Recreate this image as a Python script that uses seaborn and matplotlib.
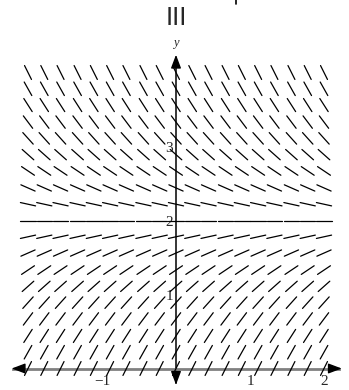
import numpy as np
import pandas as pd
import seaborn as sns
import matplotlib.pyplot as plt
from matplotlib.lines import Line2D
from matplotlib.ticker import FixedLocator

# --- slope field values ---
x_vals = [-2.0, -1.78, -1.56, -1.33, -1.11, -0.89, -0.67, -0.44, -0.22, 0.0,
          0.22, 0.44, 0.67, 0.89, 1.11, 1.33, 1.56, 1.78, 2.0]
y_vals = [0.0, 0.22, 0.44, 0.67, 0.89, 1.11, 1.33, 1.56, 1.78, 2.0,
          2.22, 2.44, 2.67, 2.89, 3.11, 3.33, 3.56, 3.78, 4.0]
row_slopes = [2.0, 1.78, 1.56, 1.33, 1.11, 0.89, 0.67, 0.44, 0.22, 0.0,
              -0.22, -0.44, -0.67, -0.89, -1.11, -1.33, -1.56, -1.78, -2.0]

x_ticklabels = {-1: '\u22121', 1: '1', 2: '2'}
y_ticklabels = {1: '1', 2: '2', 3: '3'}
minor_x = [-2.0, -1.8, -1.6, -1.4, -1.2, -1.0, -0.8, -0.6, -0.4, -0.2, 0.0,
           0.2, 0.4, 0.6, 0.8, 1.0, 1.2, 1.4, 1.6, 1.8, 2.0]
minor_y = [0.2, 0.4, 0.6, 0.8, 1.0, 1.2, 1.4, 1.6, 1.8, 2.0,
           2.2, 2.4, 2.6, 2.8, 3.0, 3.2, 3.4, 3.6, 3.8, 4.0]

half_len = 0.105

# build segments as long-form table
rows = []
seg = 0
for yv, m in zip(y_vals, row_slopes):
    dx = half_len / np.sqrt(1 + m * m)
    for xv in x_vals:
        rows.append((seg, xv - dx, yv - m * dx))
        rows.append((seg, xv + dx, yv + m * dx))
        seg += 1
df = pd.DataFrame(rows, columns=['seg', 'x', 'y'])

sns.set_style('white')

fig = plt.figure(figsize=(3.49, 3.9), dpi=100)
ax = fig.add_axes([0, 0, 1, 1])
ax.set_xlim(-176 / 74, (349 - 176) / 74)
ax.set_ylim((368.5 - 390) / 74, 368.5 / 74)

sns.lineplot(data=df, x='x', y='y', units='seg', estimator=None, sort=False,
             color='black', lw=0.9, ax=ax, legend=False, zorder=3)
ax.set_xlabel('')
ax.set_ylabel('')

# axes through origin
for s in ['top', 'right']:
    ax.spines[s].set_visible(False)
ax.spines['bottom'].set_position(('data', 0))
ax.spines['left'].set_position(('data', 0))
ax.spines['bottom'].set_bounds(-2.2, 2.2)
ax.spines['bottom'].set_color('#808080')
ax.spines['bottom'].set_linewidth(2)
ax.spines['left'].set_bounds(-0.2, 4.2)
ax.spines['left'].set_color('black')
ax.spines['left'].set_linewidth(1.1)

ax.xaxis.set_major_locator(FixedLocator(list(x_ticklabels.keys())))
ax.set_xticklabels(list(x_ticklabels.values()))
ax.xaxis.set_minor_locator(FixedLocator(minor_x))
ax.yaxis.set_major_locator(FixedLocator(list(y_ticklabels.keys())))
ax.set_yticklabels(list(y_ticklabels.values()))
ax.yaxis.set_minor_locator(FixedLocator(minor_y))

ax.tick_params(which='both', direction='in', length=3, width=0.8, color='black')
ax.tick_params(axis='x', which='major', pad=5)
ax.tick_params(axis='y', which='major', pad=2)
for lab in ax.get_xticklabels() + ax.get_yticklabels():
    lab.set_family(['Liberation Serif'])
    lab.set_fontsize(11)

# arrow heads
head = dict(arrowstyle='-|>,head_length=0.45,head_width=0.17', color='black',
            lw=1, mutation_scale=18, shrinkA=0, shrinkB=0)
ax.annotate('', xy=(2.24, 0), xytext=(2.1, 0), arrowprops=head)
ax.annotate('', xy=(-2.22, 0), xytext=(-2.08, 0), arrowprops=head)
ax.annotate('', xy=(0, 4.24), xytext=(0, 4.1), arrowprops=head)
ax.annotate('', xy=(0, -0.22), xytext=(0, -0.08), arrowprops=head)

ax.text(0, (368.5 - 43) / 74, 'y', ha='center', va='center', fontsize=9,
        style='italic', family=['Liberation Serif'])

fig.text(176 / 349, 1 - 18 / 390, 'III', ha='center', va='center',
         fontsize=17, family=['DejaVu Sans'])
fig.add_artist(Line2D([236 / 349, 236 / 349], [1, 1 - 4 / 390],
                      color='black', lw=1.2))

fig.savefig('out.png', dpi=100)
